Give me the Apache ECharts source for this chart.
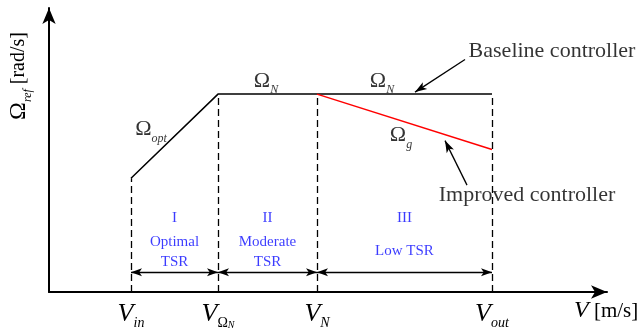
<!DOCTYPE html>
<html>
<head>
<meta charset="utf-8">
<script src="https://cdn.jsdelivr.net/npm/echarts@6/dist/echarts.min.js"></script>
<style>
  html, body { margin: 0; padding: 0; background: #fff; }
  #chart { width: 640px; height: 330px; }
</style>
</head>
<body>
<div id="chart"></div>
<script>
// wind speed break points (schematic units)
const V_IN = 82, V_OMEGA_N = 169, V_N = 268, V_OUT = 443;
const tickValues = [V_IN, V_OMEGA_N, V_N, V_OUT];
const tickSubs = ['in', 'ΩN', 'N', 'out'];

// rotor speed reference (schematic units)
const omegaStart = 115;
const omegaN = 200;
const omegaGEnd = 144;

const baselineX = [V_IN, V_OMEGA_N, V_OUT];
const baselineY = [omegaStart, omegaN, omegaN];
const improvedX = [V_N, V_OUT];
const improvedY = [omegaN, omegaGEnd];

// regions
const regionNames = ['I', 'II', 'III'];
const regionDesc = [['Optimal', 'TSR'], ['Moderate', 'TSR'], ['Low TSR']];
const regionBounds = [[V_IN, V_OMEGA_N], [V_OMEGA_N, V_N], [V_N, V_OUT]];
const arrowLevel = 20;

const serif = '"Liberation Serif", "DejaVu Serif", serif';
const blue = '#0a0aff';

const chart = echarts.init(document.getElementById('chart'));

const omegaRich = {
  o: { fontFamily: serif, fontSize: 22, color: '#000', lineHeight: 30, verticalAlign: 'middle' },
  s: { fontFamily: serif, fontSize: 12, fontStyle: 'italic', color: '#000', lineHeight: 30, verticalAlign: 'bottom' }
};

function region(i) {
  return (regionBounds[i][0] + regionBounds[i][1]) / 2;
}

function blueLabel(text) {
  return { formatter: text, fontFamily: serif, fontSize: 15, color: blue };
}

chart.setOption({
  animation: false,
  grid: { left: 49, right: 33, top: 8, bottom: 35 },
  xAxis: {
    type: 'value',
    min: 0,
    max: 558,
    splitLine: { show: false },
    axisTick: { show: false },
    axisLine: {
      show: true,
      symbol: ['none', 'arrow'],
      symbolSize: [10, 16],
      lineStyle: { color: '#000', width: 2 }
    },
    axisLabel: {
      customValues: tickValues,
      margin: 6,
      formatter: function (v) {
        const i = tickValues.indexOf(v);
        if (tickSubs[i] === 'ΩN') return '{v|V}{o|Ω}{n|N}';
        return '{v|V}{s|' + tickSubs[i] + '}';
      },
      rich: {
        v: { fontFamily: serif, fontSize: 26, fontStyle: 'italic', color: '#000', lineHeight: 32, verticalAlign: 'middle' },
        s: { fontFamily: serif, fontSize: 14, fontStyle: 'italic', color: '#000', lineHeight: 32, verticalAlign: 'bottom' },
        o: { fontFamily: serif, fontSize: 14, color: '#000', lineHeight: 32, verticalAlign: 'bottom' },
        n: { fontFamily: serif, fontSize: 10, fontStyle: 'italic', color: '#000', lineHeight: 30, verticalAlign: 'bottom' }
      }
    }
  },
  yAxis: {
    type: 'value',
    min: 0,
    max: 287,
    splitLine: { show: false },
    axisTick: { show: false },
    axisLabel: { show: false },
    axisLine: {
      show: true,
      symbol: ['none', 'arrow'],
      symbolSize: [10, 16],
      lineStyle: { color: '#000', width: 2 }
    }
  },
  graphic: [
    {
      type: 'text',
      left: 7,
      top: 32,
      rotation: Math.PI / 2,
      style: {
        text: '{o|Ω}{s|ref}{t| [rad/s]}',
        rich: {
          o: { fontFamily: serif, fontSize: 24, color: '#000', lineHeight: 30, verticalAlign: 'middle' },
          s: { fontFamily: serif, fontSize: 12, fontStyle: 'italic', color: '#000', lineHeight: 30, verticalAlign: 'bottom' },
          t: { fontFamily: serif, fontSize: 20, color: '#000', lineHeight: 30, verticalAlign: 'middle' }
        }
      }
    },
    {
      type: 'text',
      left: 574,
      top: 299,
      style: {
        text: '{v|V}{t| [m/s]}',
        rich: {
          v: { fontFamily: serif, fontSize: 24, fontStyle: 'italic', color: '#000' },
          t: { fontFamily: serif, fontSize: 21, color: '#000' }
        }
      }
    }
  ],
  series: [
    {
      name: 'Baseline controller',
      type: 'line',
      data: baselineX.map((x, i) => [x, baselineY[i]]),
      symbol: 'none',
      lineStyle: { color: '#000', width: 1.5 },
      markLine: {
        silent: true,
        symbol: 'none',
        label: { show: false },
        lineStyle: { color: '#000', width: 1.3, type: [7, 4] },
        data: [
          [{ coord: [V_IN, 0] }, { coord: [V_IN, omegaStart] }],
          [{ coord: [V_OMEGA_N, 0] }, { coord: [V_OMEGA_N, omegaN] }],
          [{ coord: [V_N, 0] }, { coord: [V_N, omegaN] }],
          [{ coord: [V_OUT, 0] }, { coord: [V_OUT, omegaN] }]
        ]
      }
    },
    {
      name: 'Improved controller',
      type: 'line',
      data: improvedX.map((x, i) => [x, improvedY[i]]),
      symbol: 'none',
      lineStyle: { color: '#ff0000', width: 1.5 },
      z: 3
    },
    {
      name: 'region arrows',
      type: 'line',
      data: [],
      markLine: {
        silent: true,
        symbol: ['arrow', 'arrow'],
        symbolSize: [6, 11],
        label: { show: false },
        lineStyle: { color: '#000', width: 1.3, type: 'solid' },
        data: regionBounds.map(b => [{ coord: [b[0], arrowLevel] }, { coord: [b[1], arrowLevel] }])
      }
    },
    {
      name: 'callouts',
      type: 'line',
      data: [],
      markLine: {
        silent: true,
        symbol: ['none', 'arrow'],
        symbolSize: [6, 12],
        label: { show: false },
        lineStyle: { color: '#000', width: 1.3, type: 'solid' },
        data: [
          [{ coord: [416, 235] }, { coord: [366, 202] }],
          [{ coord: [418, 108] }, { coord: [396, 153] }]
        ]
      }
    },
    {
      name: 'labels',
      type: 'scatter',
      symbolSize: 0,
      silent: true,
      label: { show: true, position: 'inside' },
      data: [
        { value: [102, 164], label: { formatter: '{o|Ω}{s|opt}', rich: omegaRich } },
        { value: [217, 213], label: { formatter: '{o|Ω}{s|N}', rich: omegaRich } },
        { value: [333, 213], label: { formatter: '{o|Ω}{s|N}', rich: omegaRich } },
        { value: [352, 158], label: { formatter: '{o|Ω}{s|g}', rich: omegaRich } },
        { value: [503, 243], label: { formatter: 'Baseline controller', fontFamily: serif, fontSize: 22, color: '#000' } },
        { value: [478, 98], label: { formatter: 'Improved controller', fontFamily: serif, fontSize: 22, color: '#000' } },
        { value: [region(0), 75], label: blueLabel(regionNames[0]) },
        { value: [region(0), 50], label: blueLabel(regionDesc[0][0]) },
        { value: [region(0), 30], label: blueLabel(regionDesc[0][1]) },
        { value: [region(1), 75], label: blueLabel(regionNames[1]) },
        { value: [region(1), 50], label: blueLabel(regionDesc[1][0]) },
        { value: [region(1), 30], label: blueLabel(regionDesc[1][1]) },
        { value: [region(2), 75], label: blueLabel(regionNames[2]) },
        { value: [region(2), 41], label: blueLabel(regionDesc[2][0]) }
      ]
    }
  ]
});
</script>
</body>
</html>
